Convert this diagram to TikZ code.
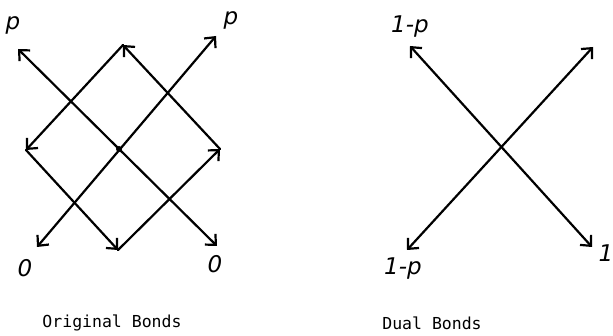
\documentclass[tikz,border=0pt]{standalone}
\usepackage{fontspec}
\newfontfamily\capfont{DejaVu Sans Mono}
\newfontfamily\handfont{DejaVu Sans}
\usetikzlibrary{arrows.meta}
\tikzset{
  bond/.style={line width=2.2pt, line cap=round, black},
  barb/.tip={Straight Barb[length=8pt,width=15pt,line width=2.2pt]},
  tip/.style={-barb},
  both/.style={barb-barb},
  hand/.style={font=\handfont\fontsize{23}{23}\selectfont\itshape, inner sep=0pt},
  captext/.style={font=\capfont\fontsize{16.5}{17}\selectfont, inner sep=0pt}
}
\begin{document}
\begin{tikzpicture}[x=1pt,y=-1pt]
\useasboundingbox (0,0) rectangle (613,336);
% original bonds
\coordinate (T) at (123,45);
\coordinate (L) at (26,150);
\coordinate (R) at (220,149);
\coordinate (B) at (118,250);
\coordinate (C) at (119,149);
\coordinate (nw) at (18,49);
\coordinate (se) at (217,246);
\coordinate (sw) at (37,247);
\coordinate (ne) at (216,36);
\draw[bond,tip] (B) -- (R);
\draw[bond,tip] (R) -- (T);
\draw[bond,tip] (T) -- (L);
\draw[bond,tip] (L) -- (B);
\draw[bond,both] (nw) -- (se);
\draw[bond,both] (sw) -- (ne);
\fill (C) circle (3pt);
\node[hand] (p1) at (13,25) {p};
\node[hand] (p2) at (231,20) {p};
\node[hand] (o1) at (25,268) {0};
\node[hand] (o2) at (215,264) {0};
% dual bonds
\coordinate (a1) at (410,46);
\coordinate (a2) at (592,247);
\coordinate (b1) at (407,250);
\coordinate (b2) at (593,47);
\draw[bond,both] (a1) -- (a2);
\draw[bond,both] (b1) -- (b2);
\node[hand] (q1) at (410,27) {1-p};
\node[hand] (q2) at (403,269) {1-p};
\node[hand] (one) at (606,253) {1};
% captions
\node[captext] (c1) at (112,323) {Original Bonds};
\node[captext] (c2) at (432,323) {Dual Bonds};
\end{tikzpicture}
\end{document}
